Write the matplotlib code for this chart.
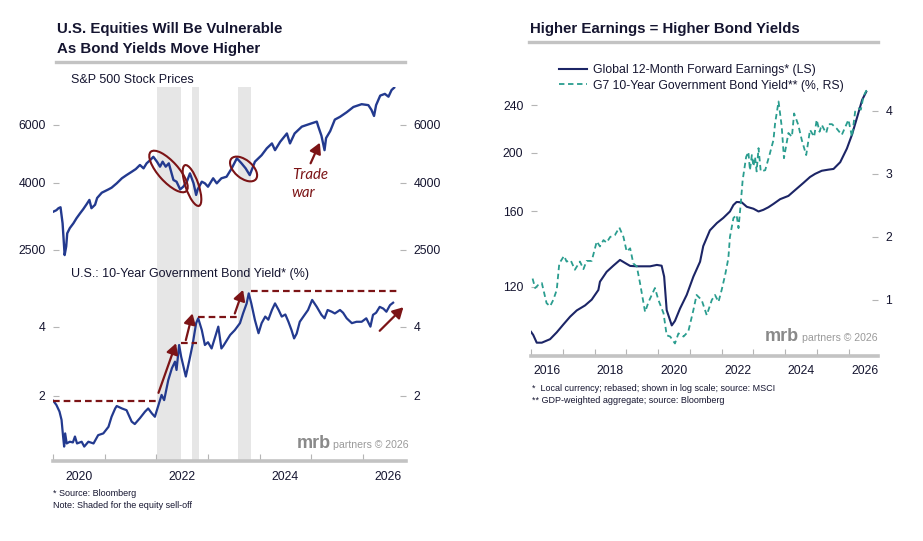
import numpy as np
import matplotlib.pyplot as plt
from matplotlib.lines import Line2D
from matplotlib.patches import Ellipse
from matplotlib.transforms import ScaledTranslation
from matplotlib.ticker import NullLocator

plt.rcParams['font.family'] = ['Liberation Sans', 'DejaVu Sans']

# ---------------- data ----------------
# S&P 500 (log scale), time in decimal years
spx_t = [2020.00, 2020.06, 2020.10, 2020.14, 2020.18, 2020.22, 2020.25, 2020.27, 2020.32,
         2020.39, 2020.45, 2020.52, 2020.58, 2020.65, 2020.70, 2020.74, 2020.81, 2020.85,
         2020.94, 2021.07, 2021.13, 2021.23, 2021.33, 2021.42, 2021.52, 2021.60, 2021.68,
         2021.75, 2021.81, 2021.88, 2021.94, 2022.01, 2022.07, 2022.12, 2022.18, 2022.24,
         2022.33, 2022.39, 2022.46, 2022.52, 2022.59, 2022.65, 2022.72, 2022.77, 2022.80,
         2022.88, 2022.94, 2023.00, 2023.10, 2023.17, 2023.26, 2023.36, 2023.46, 2023.56,
         2023.65, 2023.73, 2023.81, 2023.91, 2024.04, 2024.14, 2024.24, 2024.30, 2024.40,
         2024.53, 2024.59, 2024.68, 2024.82, 2024.91, 2025.01, 2025.11, 2025.14, 2025.20,
         2025.26, 2025.29, 2025.37, 2025.46, 2025.56, 2025.69, 2025.82, 2025.98, 2026.11,
         2026.17, 2026.22, 2026.26, 2026.34, 2026.43, 2026.50, 2026.56, 2026.61]
spx_v = [3266, 3300, 3346, 3368, 3011, 2411, 2560, 2807, 2911,
         3011, 3119, 3230, 3323, 3448, 3546, 3346, 3428, 3594,
         3729, 3817, 3862, 3982, 4125, 4218, 4317, 4400, 4527,
         4422, 4580, 4686, 4795, 4633, 4474, 4633, 4474, 4580,
         4076, 4028, 3817, 3889, 4028, 4270, 3982, 3672, 3817,
         4028, 3982, 3889, 4125, 3982, 4125, 4170, 4422, 4744,
         4580, 4422, 4218, 4633, 4848, 5086, 5264, 5022, 5325,
         5644, 5264, 5644, 5920, 5986, 6059, 6131, 5920, 5557,
         5022, 5465, 5738, 6219, 6340, 6547, 6793, 6926, 6880,
         6656, 6378, 6880, 7355, 7444, 7300, 7646, 7773]

# U.S. 10-year government bond yield (%)
ust_t = [2020.00, 2020.06, 2020.12, 2020.16, 2020.19, 2020.21, 2020.23, 2020.26, 2020.32,
         2020.38, 2020.42, 2020.46, 2020.55, 2020.60, 2020.68, 2020.78, 2020.87, 2020.97,
         2021.07, 2021.13, 2021.20, 2021.23, 2021.33, 2021.42, 2021.52, 2021.58, 2021.68,
         2021.78, 2021.84, 2021.91, 2021.97, 2022.04, 2022.10, 2022.15, 2022.23, 2022.30,
         2022.36, 2022.39, 2022.44, 2022.48, 2022.57, 2022.64, 2022.70, 2022.77, 2022.81,
         2022.88, 2022.94, 2023.00, 2023.07, 2023.13, 2023.20, 2023.26, 2023.30, 2023.43,
         2023.52, 2023.62, 2023.68, 2023.75, 2023.79, 2023.84, 2023.91, 2023.98, 2024.04,
         2024.11, 2024.17, 2024.24, 2024.30, 2024.37, 2024.43, 2024.50, 2024.56, 2024.62,
         2024.67, 2024.72, 2024.78, 2024.85, 2024.94, 2025.02, 2025.11, 2025.20, 2025.26,
         2025.32, 2025.40, 2025.46, 2025.56, 2025.62, 2025.69, 2025.79, 2025.88, 2025.98,
         2026.07, 2026.15, 2026.20, 2026.26, 2026.33, 2026.40, 2026.46, 2026.53, 2026.59]
ust_v = [1.86, 1.74, 1.55, 1.31, 0.83, 0.54, 0.92, 0.63, 0.68,
         0.66, 0.83, 0.63, 0.68, 0.54, 0.68, 0.63, 0.87, 0.92,
         1.11, 1.40, 1.64, 1.71, 1.64, 1.59, 1.26, 1.19, 1.36,
         1.55, 1.64, 1.50, 1.40, 1.74, 2.03, 1.88, 2.46, 2.80,
         2.99, 2.75, 3.47, 3.13, 2.56, 3.04, 3.47, 4.10, 4.24,
         3.90, 3.47, 3.55, 3.37, 3.66, 4.00, 3.37, 3.45, 3.76,
         3.90, 4.10, 4.38, 4.67, 4.96, 4.67, 4.19, 3.81, 4.10,
         4.29, 4.20, 4.48, 4.67, 4.48, 4.29, 4.35, 4.14, 3.90,
         3.66, 3.80, 4.14, 4.29, 4.48, 4.77, 4.57, 4.34, 4.24,
         4.48, 4.43, 4.38, 4.48, 4.40, 4.24, 4.10, 4.14, 4.14,
         4.24, 4.00, 4.34, 4.40, 4.57, 4.52, 4.43, 4.62, 4.69]

# equity sell-off periods (shaded)
selloff_start = [2022.01, 2022.69, 2023.58]
selloff_end = [2022.48, 2022.83, 2023.83]

# global 12-month forward earnings (rebased, log scale)
eps_t = [2016.00, 2016.07, 2016.18, 2016.34, 2016.60, 2016.81, 2017.02, 2017.23, 2017.44,
         2017.70, 2017.91, 2018.12, 2018.17, 2018.38, 2018.59, 2018.80, 2019.01, 2019.12,
         2019.33, 2019.75, 2019.96, 2020.11, 2020.19, 2020.27, 2020.43, 2020.53, 2020.69,
         2020.90, 2021.11, 2021.32, 2021.42, 2021.63, 2021.85, 2022.05, 2022.26, 2022.37,
         2022.47, 2022.63, 2022.79, 2023.00, 2023.16, 2023.31, 2023.47, 2023.63, 2023.84,
         2024.10, 2024.31, 2024.57, 2024.78, 2024.94, 2025.15, 2025.36, 2025.52, 2025.73,
         2025.94, 2026.10, 2026.26, 2026.42, 2026.55]
eps_v = [101.0, 99.8, 96.9, 96.9, 98.2, 100.8, 103.9, 107.0, 109.6,
         111.7, 114.2, 118.5, 122.3, 127.0, 130.0, 132.9, 130.9, 129.9,
         129.7, 129.7, 130.4, 130.0, 124.7, 109.7, 103.5, 105.3, 110.4,
         116.3, 124.7, 132.0, 140.1, 148.8, 153.0, 156.0, 159.9, 163.9,
         165.8, 165.6, 162.8, 161.6, 159.9, 160.9, 162.5, 164.6, 167.6,
         169.7, 173.5, 178.3, 182.4, 184.6, 186.8, 187.6, 188.1, 193.0,
         203.3, 214.3, 228.9, 244.8, 252.6]

# G7 10-year government bond yield (%)
g7_t = [2016.05, 2016.13, 2016.23, 2016.34, 2016.49, 2016.60, 2016.70, 2016.81, 2016.89,
        2017.04, 2017.12, 2017.25, 2017.38, 2017.54, 2017.65, 2017.75, 2017.91, 2018.07,
        2018.17, 2018.28, 2018.38, 2018.49, 2018.64, 2018.78, 2018.91, 2019.01, 2019.12,
        2019.22, 2019.33, 2019.43, 2019.59, 2019.70, 2019.90, 2020.01, 2020.17, 2020.27,
        2020.38, 2020.53, 2020.64, 2020.80, 2020.95, 2021.11, 2021.21, 2021.37, 2021.53,
        2021.69, 2021.79, 2021.90, 2022.00, 2022.11, 2022.21, 2022.26, 2022.37, 2022.47,
        2022.53, 2022.60, 2022.66, 2022.77, 2022.84, 2022.89, 2022.95, 2023.00, 2023.05,
        2023.10, 2023.16, 2023.23, 2023.37, 2023.52, 2023.63, 2023.68, 2023.79, 2023.89,
        2023.96, 2024.10, 2024.21, 2024.28, 2024.41, 2024.52, 2024.66, 2024.78, 2024.91,
        2024.99, 2025.08, 2025.15, 2025.22, 2025.29, 2025.36, 2025.47, 2025.62, 2025.78,
        2025.99, 2026.10, 2026.20, 2026.31, 2026.38, 2026.46, 2026.55, 2026.62]
g7_v = [1.34, 1.19, 1.24, 1.27, 0.95, 0.90, 1.00, 1.16, 1.58,
        1.70, 1.61, 1.63, 1.48, 1.61, 1.49, 1.62, 1.62, 1.93,
        1.85, 1.95, 1.91, 2.00, 2.03, 2.15, 2.00, 1.77, 1.82,
        1.58, 1.53, 1.27, 0.81, 0.97, 1.19, 1.00, 0.79, 0.44,
        0.42, 0.31, 0.47, 0.42, 0.50, 0.84, 1.08, 1.00, 0.76,
        1.00, 1.08, 0.97, 1.16, 1.40, 1.66, 2.00, 2.30, 2.35,
        2.14, 2.53, 2.90, 3.27, 3.35, 3.06, 3.30, 3.12, 3.27,
        3.04, 3.41, 3.04, 3.06, 3.33, 3.54, 3.80, 4.15, 3.75,
        3.25, 3.65, 3.59, 3.96, 3.78, 3.54, 3.30, 3.70, 3.59,
        3.86, 3.67, 3.78, 3.71, 3.65, 3.79, 3.79, 3.72, 3.62,
        3.86, 3.59, 3.99, 4.04, 4.02, 4.23, 4.32, 4.31]

spx_ticks = [2500, 4000, 6000]
ust_ticks = [2, 4]
eps_ticks = [120, 160, 200, 240]
g7_ticks = [1, 2, 3, 4]
left_years = [2020, 2022, 2024, 2026]
right_years = [2016, 2018, 2020, 2022, 2024, 2026]

# ---------------- style ----------------
W, H = 923, 541
NAVY = '#233a8f'
DNAVY = '#1c2566'
TEAL = '#2a9d8f'
RED = '#7c1416'
TXT = '#151530'
TICKC = '#b5b5b5'
AXC = '#c3c3c3'


def fx(x):
    return x / W


def fy(y):
    return 1 - y / H


fig = plt.figure(figsize=(W / 100, H / 100), dpi=100)

ax_top = fig.add_axes([fx(53.3), fy(267), (406 - 53.3) / W, (267 - 87) / H])
ax_bot = fig.add_axes([fx(53.3), fy(461), (406 - 53.3) / W, (461 - 267) / H])
ax_r = fig.add_axes([fx(531), fy(355.7), (877.7 - 531) / W, (355.7 - 58) / H])
ax_r2 = ax_r.twinx()

for a in (ax_top, ax_bot, ax_r, ax_r2):
    for s in a.spines.values():
        s.set_visible(False)
    a.patch.set_alpha(0)


def style_y(a, ticks, left=True, right=True):
    a.set_yticks(ticks)
    a.set_yticklabels([str(t) for t in ticks])
    a.yaxis.set_minor_locator(NullLocator())
    a.tick_params(axis='y', which='major', direction='in', length=4.5, width=0.8,
                  color=TICKC, labelsize=8.8, labelcolor=TXT, pad=5.5,
                  left=left, right=right, labelleft=left, labelright=right)


def style_x(a, y0, y1, lab_years):
    a.spines['bottom'].set_visible(True)
    a.spines['bottom'].set_color(AXC)
    a.spines['bottom'].set_linewidth(2.6)
    a.set_xticks(np.arange(y0, y1 + 1))
    a.set_xticklabels([])
    a.set_xticks([y + 0.5 for y in lab_years], minor=True)
    a.set_xticklabels([str(y) for y in lab_years], minor=True)
    a.tick_params(axis='x', which='major', direction='in', length=5, width=0.8, color=TICKC)
    a.tick_params(axis='x', which='minor', length=0, pad=7, labelsize=8.8, labelcolor=TXT)


# ---------------- left: S&P 500 ----------------
for s0, s1 in zip(selloff_start, selloff_end):
    ax_top.axvspan(s0, s1, color='#e6e6e6', lw=0, zorder=0)
    ax_bot.axvspan(s0, s1, color='#e6e6e6', lw=0, zorder=0)

ax_top.plot(spx_t, spx_v, color=NAVY, lw=1.7, zorder=3)
ax_top.set_yscale('log')
ax_top.set_ylim(2218, 7811)
ax_top.set_xlim(2020.0, 2026.84)
ax_top.set_xticks([])
style_y(ax_top, spx_ticks)

# circles around the sell-offs
for cx, cy, w, h, ang in [(2022.234, 4326, 53, 20, -48),
                          (2022.69, 3922, 43, 13, -71),
                          (2023.69, 4402, 32, 18, -40)]:
    tr = fig.dpi_scale_trans + ScaledTranslation(cx, cy, ax_top.transData)
    ax_top.add_patch(Ellipse((0, 0), w / 100, h / 100, angle=ang, transform=tr,
                             fill=False, ec=RED, lw=1.5, zorder=4))

ax_top.annotate('', xy=(2025.17, 5291), xytext=(2024.99, 4581),
                arrowprops=dict(arrowstyle='-|>,head_length=0.45,head_width=0.25',
                                mutation_scale=14, color=RED, lw=1.6,
                                shrinkA=0, shrinkB=0), zorder=5)
ax_top.text(2024.64, 4096, 'Trade', color=RED, fontsize=10.8, style='italic',
            family=['Lato', 'DejaVu Sans'], va='baseline', ha='left')
ax_top.text(2024.62, 3612, 'war', color=RED, fontsize=10.8, style='italic',
            family=['Lato', 'DejaVu Sans'], va='baseline', ha='left')

# ---------------- left: U.S. 10-year yield ----------------
ax_bot.plot(ust_t, ust_v, color=NAVY, lw=1.6, zorder=3)
ax_bot.set_ylim(0.124, 5.72)
ax_bot.set_xlim(2020.0, 2026.84)
style_y(ax_bot, ust_ticks)
style_x(ax_bot, 2020, 2026, left_years)

for t0, t1, lvl in [(2020.0, 2022.036, 1.86), (2022.476, 2022.78, 3.54),
                    (2022.81, 2023.62, 4.29), (2023.83, 2026.69, 5.04)]:
    ax_bot.plot([t0, t1], [lvl, lvl], color=RED, lw=1.6, dashes=(3.0, 1.8), zorder=4)

for (t0, v0), (t1, v1) in [((2022.04, 2.09), (2022.38, 3.52)),
                           ((2022.57, 3.61), (2022.70, 4.38)),
                           ((2023.52, 4.38), (2023.68, 5.06)),
                           ((2026.33, 3.88), (2026.79, 4.56))]:
    ax_bot.annotate('', xy=(t1, v1), xytext=(t0, v0),
                    arrowprops=dict(arrowstyle='-|>,head_length=0.45,head_width=0.25',
                                    mutation_scale=14, color=RED, lw=1.6,
                                    shrinkA=0, shrinkB=0), zorder=5)

# ---------------- right: earnings vs G7 yields ----------------
ax_r.plot(eps_t, eps_v, color=DNAVY, lw=1.5, zorder=3)
ax_r.set_yscale('log')
ax_r.set_ylim(92.2, 287.3)
ax_r.set_xlim(2016.0, 2026.91)
style_y(ax_r, eps_ticks, left=True, right=False)
style_x(ax_r, 2016, 2026, right_years)

ax_r2.plot(g7_t, g7_v, color=TEAL, lw=1.3, dashes=(3.0, 2.0), zorder=3)
ax_r2.set_ylim(0.116, 4.84)
style_y(ax_r2, g7_ticks, left=False, right=True)

handles = [Line2D([], [], color=DNAVY, lw=1.5),
           Line2D([], [], color=TEAL, lw=1.3, dashes=(3.0, 2.0))]
ax_r.legend(handles, ['Global 12-Month Forward Earnings* (LS)',
                      'G7 10-Year Government Bond Yield** (%, RS)'],
            loc='upper left', bbox_to_anchor=(fx(559), fy(64.5)),
            bbox_transform=fig.transFigure, frameon=False, fontsize=8.8,
            handlelength=2.3, handletextpad=0.45, labelspacing=0.25,
            borderpad=0, borderaxespad=0, labelcolor=TXT)

# ---------------- titles, labels, notes ----------------
fig.text(fx(56.7), fy(33.3), 'U.S. Equities Will Be Vulnerable', fontsize=10.8,
         weight='bold', color=TXT, va='baseline')
fig.text(fx(56.7), fy(53.3), 'As Bond Yields Move Higher', fontsize=10.8,
         weight='bold', color=TXT, va='baseline')
fig.text(fx(530), fy(33.3), 'Higher Earnings = Higher Bond Yields', fontsize=10.8,
         weight='bold', color=TXT, va='baseline')
fig.add_artist(Line2D([fx(56), fx(405)], [fy(61.7), fy(61.7)], color=AXC, lw=2.4))
fig.add_artist(Line2D([fx(529), fx(877.7)], [fy(42), fy(42)], color=AXC, lw=2.4))

fig.text(fx(70.7), fy(83), 'S&P 500 Stock Prices', fontsize=9, color=TXT, va='baseline')
fig.text(fx(70.7), fy(277.3), 'U.S.: 10-Year Government Bond Yield* (%)', fontsize=9,
         color=TXT, va='baseline', zorder=6)

fig.text(fx(53.3), fy(496), '* Source: Bloomberg', fontsize=6.5, color=TXT, va='baseline')
fig.text(fx(53.3), fy(508.3), 'Note: Shaded for the equity sell-off', fontsize=6.5,
         color=TXT, va='baseline')
fig.text(fx(531.7), fy(390.7), '*  Local currency; rebased; shown in log scale; source: MSCI',
         fontsize=6.5, color=TXT, va='baseline')
fig.text(fx(531.7), fy(402.7), '** GDP-weighted aggregate; source: Bloomberg',
         fontsize=6.5, color=TXT, va='baseline')

# watermarks
for mx, px_, by in [(296.7, 333, 447.5), (765, 801.7, 341)]:
    fig.text(fx(mx), fy(by), 'mrb', fontsize=13, weight='bold', color='#8a8a8a',
             va='baseline')
    fig.text(fx(px_), fy(by), 'partners \u00a9 2026', fontsize=7.6, color='#9a9a9a',
             va='baseline')

fig.savefig('out.png', dpi=100)
